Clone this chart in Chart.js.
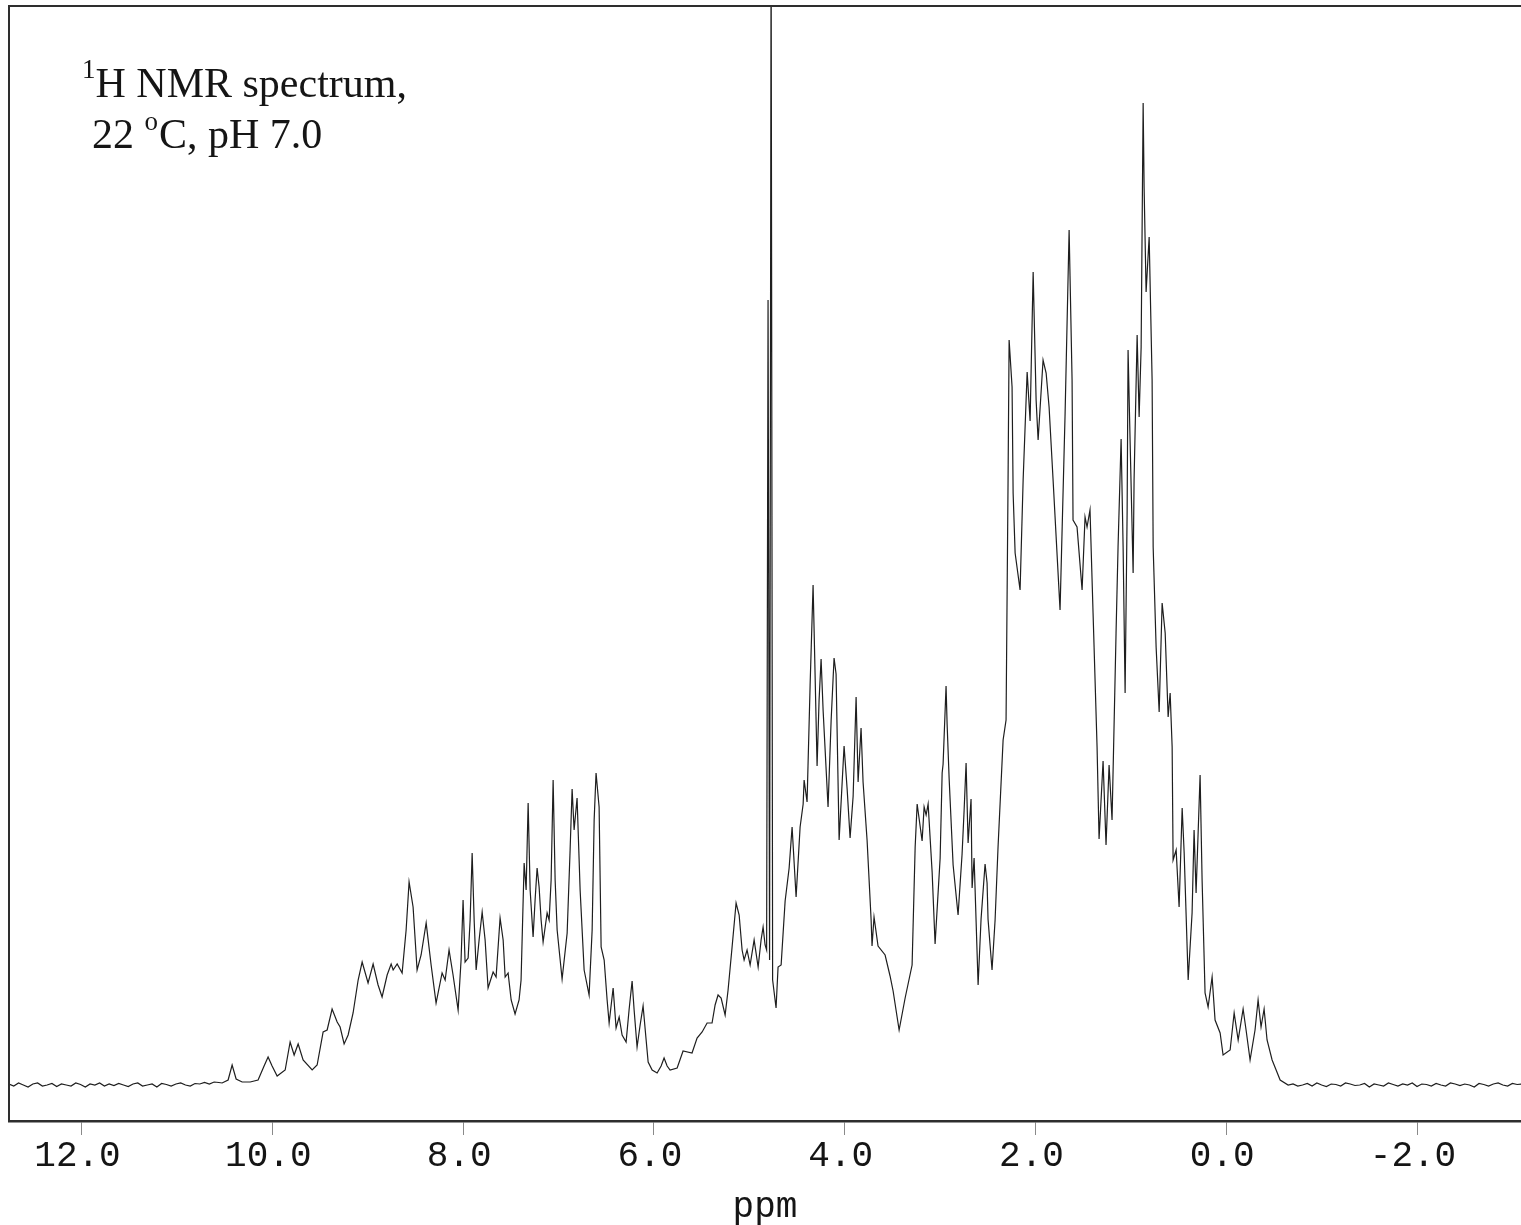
<!DOCTYPE html>
<html>
<head>
<meta charset="utf-8">
<script src="https://cdn.jsdelivr.net/npm/chart.js@4.4.1/dist/chart.umd.min.js"></script>
<style>
html,body{margin:0;padding:0;background:#fff;overflow:hidden;}
#wrap{position:relative;width:1521px;height:1225px;}
canvas{display:block;}
</style>
</head>
<body>
<div id="wrap"><canvas id="c" width="1521" height="1225"></canvas></div>
<script>
// ---- data (chemical shift in ppm, intensity in arbitrary units) ----
const captionLine1 = ["1", "H NMR spectrum,"];
const captionLine2 = ["22 ", "o", "C, pH 7.0"];
const axisTitle = "ppm";
const tickValues = [12, 10, 8, 6, 4, 2, 0, -2];
const ppmRange = [-3.09, 12.76];
const intensityRange = [-3.6, 107.9];

const baselineLowPpm = [12.76,12.71,12.66,12.61,12.56,12.51,12.46,12.41,12.36,12.31,12.26,12.21,12.16,12.11,12.06,12.01,11.96,11.91,11.86,11.81,11.76,11.71,11.66,11.61,11.56,11.51,11.46,11.41,11.36,11.31,11.26,11.21,11.16,11.11,11.06,11.01,10.96,10.91,10.86,10.81,10.76,10.71,10.66,10.61,10.56];
const baselineLowIntensity = [0.1,-0.1,0.2,0.0,-0.2,0.1,0.2,-0.1,0.0,0.15,-0.15,0.1,0.0,-0.1,0.2,0.05,-0.2,0.1,0.0,0.2,-0.1,0.1,-0.05,0.15,0.0,-0.15,0.1,0.2,-0.1,0.0,0.1,-0.2,0.15,0.05,-0.1,0.1,0.2,0.0,-0.1,0.15,0.1,0.25,0.1,0.3,0.25];

const signalPoints = [
[10.526,0.2],[10.463,0.5],[10.421,2.0],[10.379,0.6],[10.316,0.3],[10.232,0.3],[10.149,0.5],[10.086,1.9],[10.044,2.8],[10.002,1.9],
[9.949,0.9],[9.865,1.5],[9.813,4.3],[9.771,3.0],[9.729,4.1],[9.677,2.5],[9.582,1.5],[9.530,2.0],[9.467,5.3],[9.425,5.5],
[9.373,7.6],[9.320,6.3],[9.289,5.8],[9.247,4.1],[9.205,5.0],[9.153,7.2],[9.100,10.5],[9.058,12.3],[8.996,10.2],[8.943,12.1],
[8.891,10.0],[8.849,8.8],[8.796,11.0],[8.754,12.1],[8.733,11.5],[8.691,12.1],[8.639,11.2],[8.597,15.5],[8.566,20.3],[8.524,17.8],
[8.482,11.5],[8.440,13.0],[8.387,16.2],[8.335,12.0],[8.283,8.2],[8.220,11.2],[8.188,10.5],[8.147,13.5],[8.105,11.0],[8.052,7.5],
[8.021,12.5],[8.000,18.5],[7.979,12.3],[7.947,12.7],[7.926,16.5],[7.905,23.2],[7.884,16.5],[7.863,11.5],[7.832,14.5],[7.800,17.3],
[7.769,14.5],[7.738,9.7],[7.685,11.3],[7.654,10.8],[7.612,16.7],[7.580,14.5],[7.559,10.8],[7.528,11.2],[7.496,8.5],[7.455,7.1],
[7.413,8.5],[7.392,10.5],[7.360,22.2],[7.339,19.5],[7.318,28.2],[7.297,19.5],[7.266,14.8],[7.245,18.5],[7.224,21.7],[7.203,19.8],
[7.182,16.5],[7.161,14.3],[7.119,17.2],[7.098,16.5],[7.077,20.5],[7.056,30.5],[7.035,20.5],[7.014,15.5],[6.962,10.6],[6.909,15.2],
[6.878,23.5],[6.857,29.6],[6.836,25.5],[6.805,28.7],[6.773,19.5],[6.731,11.5],[6.679,9.0],[6.647,15.5],[6.626,26.5],[6.606,31.2],
[6.574,27.8],[6.563,20.5],[6.553,13.8],[6.521,12.5],[6.490,8.5],[6.469,6.2],[6.427,9.7],[6.396,5.7],[6.364,6.8],[6.333,5.0],
[6.291,4.3],[6.260,7.5],[6.228,10.4],[6.207,7.5],[6.176,3.8],[6.144,6.0],[6.113,7.9],[6.081,4.5],[6.060,2.3],[6.018,1.5],
[5.966,1.2],[5.924,1.9],[5.893,2.7],[5.861,1.9],[5.830,1.5],[5.756,1.7],[5.694,3.4],[5.600,3.2],[5.547,4.7],[5.494,5.3],
[5.442,6.2],[5.390,6.2],[5.358,8.0],[5.327,9.0],[5.295,8.7],[5.253,7.0],[5.222,9.5],[5.180,13.8],[5.138,18.2],[5.106,17.0],
[5.075,13.5],[5.054,12.5],[5.023,13.5],[4.991,12.0],[4.949,14.5],[4.907,11.8],[4.876,14.5],[4.855,15.8],[4.834,14.0],[4.818,13.5],
[4.803,78.5],[4.787,12.5],[4.771,115.0],[4.755,10.5],[4.719,7.7],[4.698,11.8],[4.666,12.0],[4.624,18.4],[4.582,21.7],[4.551,25.8],
[4.509,18.8],[4.467,25.8],[4.435,28.1],[4.425,30.5],[4.394,28.3],[4.362,40.0],[4.331,50.0],[4.320,45.4],[4.289,31.9],[4.268,38.5],
[4.247,42.6],[4.226,37.5],[4.174,27.8],[4.142,36.4],[4.111,42.7],[4.090,41.1],[4.058,24.5],[4.006,33.9],[3.974,29.6],[3.943,24.7],
[3.911,28.9],[3.880,38.8],[3.859,30.3],[3.828,35.7],[3.807,30.3],[3.765,24.5],[3.723,16.6],[3.713,13.9],[3.692,16.8],[3.650,13.9],
[3.576,13.0],[3.524,10.9],[3.492,9.4],[3.429,5.5],[3.366,8.7],[3.293,12.0],[3.261,23.8],[3.240,28.1],[3.188,24.4],[3.167,27.8],
[3.146,27.0],[3.125,28.1],[3.083,21.3],[3.052,14.1],[2.999,22.7],[2.978,31.2],[2.968,32.1],[2.937,39.9],[2.926,36.1],[2.905,30.7],
[2.863,22.0],[2.811,17.0],[2.769,23.1],[2.748,27.4],[2.727,32.2],[2.706,24.2],[2.675,28.6],[2.664,19.7],[2.643,22.7],[2.601,10.0],
[2.570,16.6],[2.528,22.1],[2.507,20.2],[2.497,16.6],[2.455,11.5],[2.423,16.5],[2.392,23.8],[2.339,34.5],[2.308,36.5],[2.287,60.5],
[2.276,74.5],[2.245,69.8],[2.234,59.2],[2.213,53.2],[2.161,49.5],[2.129,60.5],[2.087,71.3],[2.056,66.4],[2.024,81.3],[1.993,68.5],
[1.972,64.5],[1.920,72.5],[1.888,71.2],[1.857,67.8],[1.815,60.5],[1.742,47.5],[1.689,67.2],[1.647,85.5],[1.616,70.5],[1.606,56.5],
[1.564,55.8],[1.511,49.5],[1.480,56.8],[1.459,55.8],[1.428,57.5],[1.396,47.2],[1.354,33.8],[1.333,24.6],[1.291,32.4],[1.260,24.0],
[1.228,32.0],[1.197,26.5],[1.155,45.2],[1.134,53.8],[1.102,64.6],[1.081,53.8],[1.060,39.2],[1.039,57.2],[1.029,73.5],[1.008,64.5],
[0.976,51.2],[0.966,60.5],[0.934,75.0],[0.913,66.8],[0.892,73.8],[0.871,98.2],[0.861,89.8],[0.840,79.3],[0.808,84.8],[0.777,70.5],
[0.766,53.8],[0.735,43.8],[0.703,37.3],[0.672,48.2],[0.640,45.2],[0.609,36.8],[0.588,39.2],[0.567,33.8],[0.557,22.5],[0.525,23.5],
[0.494,17.8],[0.462,27.7],[0.441,23.2],[0.399,10.5],[0.358,17.2],[0.337,25.5],[0.316,19.2],[0.274,31.0],[0.253,20.5],[0.222,9.2],
[0.190,7.8],[0.148,10.8],[0.117,6.5],[0.064,5.2],[0.033,3.0],[-0.041,3.5],[-0.083,7.2],[-0.125,4.5],[-0.177,7.6],[-0.208,5.5],
[-0.250,2.5],[-0.302,5.5],[-0.334,8.5],[-0.365,5.8],[-0.397,7.6],[-0.428,4.5],[-0.481,2.5],[-0.523,1.5],[-0.565,0.5],[-0.649,0.0]
];

const baselineHighPpm = [-0.70,-0.75,-0.80,-0.85,-0.90,-0.95,-1.00,-1.05,-1.10,-1.15,-1.20,-1.25,-1.30,-1.35,-1.40,-1.45,-1.50,-1.55,-1.60,-1.65,-1.70,-1.75,-1.80,-1.85,-1.90,-1.95,-2.00,-2.05,-2.10,-2.15,-2.20,-2.25,-2.30,-2.35,-2.40,-2.45,-2.50,-2.55,-2.60,-2.65,-2.70,-2.75,-2.80,-2.85,-2.90,-2.95,-3.00,-3.05,-3.10];
const baselineHighIntensity = [0.1,-0.1,0.0,0.15,-0.1,0.2,0.0,-0.15,0.1,0.05,-0.1,0.2,0.1,-0.05,0.0,0.15,-0.2,0.1,0.0,-0.1,0.2,0.05,-0.1,0.1,0.0,0.2,-0.15,0.1,0.05,-0.1,0.15,0.0,-0.1,0.2,0.1,-0.05,0.1,0.0,-0.2,0.15,0.05,-0.1,0.1,0.2,0.0,-0.1,0.15,0.05,0.1];

// ---- build the dataset from the arrays ----
const spectrum = []
  .concat(baselineLowPpm.map((p, i) => ({x: p, y: baselineLowIntensity[i]})))
  .concat(signalPoints.map(([p, v]) => ({x: p, y: v})))
  .concat(baselineHighPpm.map((p, i) => ({x: p, y: baselineHighIntensity[i]})));

const FRAME = '#2e2e2e';
const TEXT = '#151515';
const MONO = '"Liberation Mono", "DejaVu Sans Mono", monospace';

const framePlugin = {
  id: 'frame',
  afterDraw(chart) {
    const {ctx, chartArea: a} = chart;
    ctx.save();
    ctx.strokeStyle = FRAME;
    ctx.lineWidth = 2;
    ctx.beginPath();
    ctx.moveTo(a.left, a.bottom);
    ctx.lineTo(a.left, a.top);
    ctx.lineTo(chart.width + 2, a.top);
    ctx.stroke();
    ctx.restore();
  }
};

const captionPlugin = {
  id: 'caption',
  afterDraw(chart) {
    const ctx = chart.ctx;
    ctx.save();
    ctx.fillStyle = TEXT;
    ctx.textBaseline = 'alphabetic';
    ctx.textAlign = 'left';
    const big = '42px "Liberation Serif", "Times New Roman", serif';
    const small = '27px "Liberation Serif", "Times New Roman", serif';
    // line 1
    let x = 82, y = 97;
    ctx.font = small;
    ctx.fillText(captionLine1[0], x, y - 19);
    x += ctx.measureText(captionLine1[0]).width;
    ctx.font = big;
    ctx.fillText(captionLine1[1], x, y);
    // line 2
    x = 92; y = 148;
    ctx.font = big;
    ctx.fillText(captionLine2[0], x, y);
    x += ctx.measureText(captionLine2[0]).width;
    ctx.font = small;
    ctx.fillText(captionLine2[1], x, y - 18);
    x += ctx.measureText(captionLine2[1]).width + 1;
    ctx.font = big;
    ctx.fillText(captionLine2[2], x, y);
    ctx.restore();
  }
};

new Chart(document.getElementById('c'), {
  type: 'line',
  data: {
    datasets: [{
      label: '1H NMR',
      data: spectrum,
      borderColor: '#1e1e1e',
      borderWidth: 1.2,
      pointRadius: 0,
      tension: 0,
      fill: false
    }]
  },
  options: {
    responsive: false,
    devicePixelRatio: 1,
    animation: false,
    layout: {padding: {left: 9, top: 6, right: 0, bottom: 0}},
    plugins: {legend: {display: false}, tooltip: {enabled: false}},
    scales: {
      x: {
        type: 'linear',
        reverse: true,
        min: ppmRange[0],
        max: ppmRange[1],
        afterBuildTicks: s => { s.ticks = tickValues.map(v => ({value: v})); },
        afterFit: s => { s.height = 104; },
        ticks: {
          autoSkip: false,
          maxRotation: 0,
          minRotation: 0,
          padding: 0,
          labelOffset: -4,
          color: TEXT,
          font: {family: MONO, size: 36},
          callback: v => Number(v).toFixed(1)
        },
        grid: {drawOnChartArea: false, drawTicks: true, tickLength: 14, tickColor: '#8a8a8a', tickWidth: 1},
        border: {display: true, color: FRAME, width: 2.5},
        title: {
          display: true,
          text: axisTitle,
          color: TEXT,
          font: {family: MONO, size: 36, lineHeight: 1},
          padding: {top: 0, bottom: 0}
        }
      },
      y: {
        display: false,
        min: intensityRange[0],
        max: intensityRange[1]
      }
    }
  },
  plugins: [framePlugin, captionPlugin]
});
</script>
</body>
</html>
